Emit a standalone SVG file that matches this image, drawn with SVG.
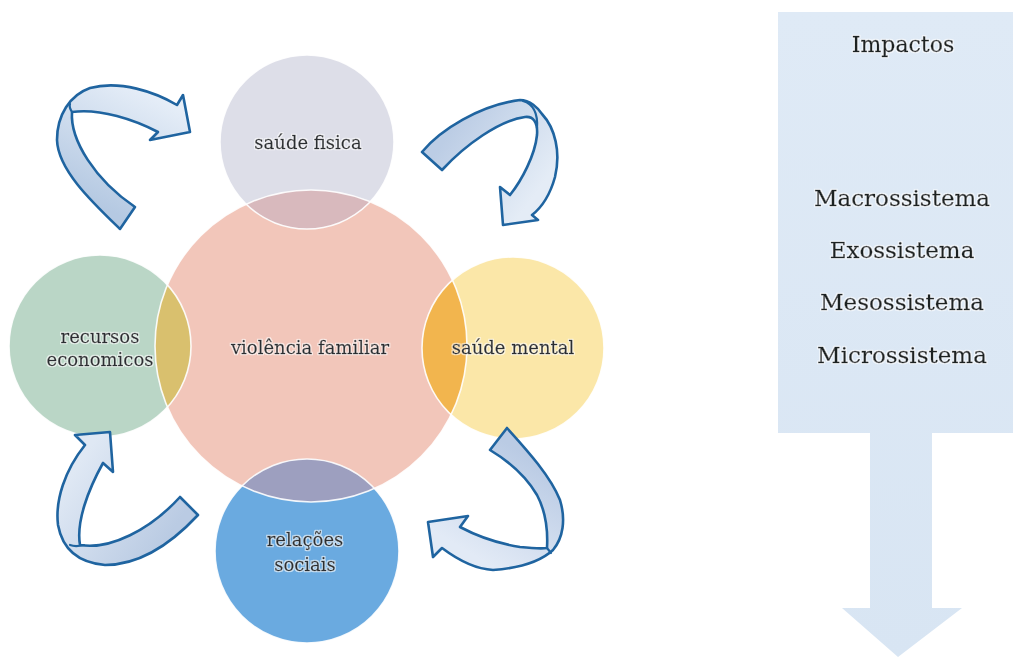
<svg xmlns="http://www.w3.org/2000/svg" width="1013" height="659" viewBox="0 0 1013 659">
<style>
.lbl{font-family:"DejaVu Serif","Liberation Serif",serif;font-size:18px;fill:#2b2e31;stroke:#2b2e31;stroke-width:0.35px;text-anchor:middle;filter:url(#halo);}
.big{font-family:"DejaVu Serif","Liberation Serif",serif;font-size:23px;fill:#1d2124;stroke:#1d2124;stroke-width:0.4px;text-anchor:middle;filter:url(#halo);}
.ring{fill:none;stroke:#ffffff;stroke-width:1.6;stroke-opacity:0.9;}
.arr{stroke:#1f64a0;stroke-width:2.6;stroke-linejoin:round;}
.fold{fill:none;stroke:#1f64a0;stroke-width:2.2;stroke-linecap:round;}
</style>
<defs>
<filter id="halo" x="-10%" y="-30%" width="120%" height="160%">
<feMorphology in="SourceAlpha" operator="dilate" radius="1.3" result="d"/>
<feFlood flood-color="#ffffff" flood-opacity="0.65"/>
<feComposite in2="d" operator="in" result="h"/>
<feMerge><feMergeNode in="h"/><feMergeNode in="SourceGraphic"/></feMerge>
</filter>
<clipPath id="cpCenter"><circle cx="311" cy="346" r="156"/></clipPath>
<linearGradient id="g1" gradientUnits="userSpaceOnUse" x1="128" y1="220" x2="185" y2="110"><stop offset="0" stop-color="#b5c9e2"/><stop offset="1" stop-color="#e6eef8"/></linearGradient>
<linearGradient id="g2" gradientUnits="userSpaceOnUse" x1="430" y1="160" x2="515" y2="222"><stop offset="0" stop-color="#bccde5"/><stop offset="1" stop-color="#e4ecf6"/></linearGradient>
<linearGradient id="g3" gradientUnits="userSpaceOnUse" x1="190" y1="505" x2="95" y2="440"><stop offset="0" stop-color="#bacbe3"/><stop offset="1" stop-color="#dfe8f4"/></linearGradient>
<linearGradient id="g4" gradientUnits="userSpaceOnUse" x1="498" y1="438" x2="440" y2="535"><stop offset="0" stop-color="#bacbe4"/><stop offset="1" stop-color="#e2eaf6"/></linearGradient>
<linearGradient id="gBox" x1="0" y1="0" x2="0" y2="1"><stop offset="0" stop-color="#dfeaf6"/><stop offset="1" stop-color="#d8e5f3"/></linearGradient>
</defs>
<rect width="1013" height="659" fill="#ffffff"/>

<g id="circles">
<g id="node-center"><circle cx="311" cy="346" r="156" fill="#f2c6ba"/></g>
<g id="node-saude-fisica"><circle cx="307" cy="142" r="87" fill="#dddee8"/>
<circle cx="307" cy="142" r="87" fill="#d8b9bd" clip-path="url(#cpCenter)"/></g>
<g id="node-saude-mental"><circle cx="513" cy="348" r="91" fill="#fbe7a8"/>
<circle cx="513" cy="348" r="91" fill="#f2b54e" clip-path="url(#cpCenter)"/></g>
<g id="node-recursos"><circle cx="100" cy="346" r="91" fill="#bad6c6"/>
<circle cx="100" cy="346" r="91" fill="#d9c06e" clip-path="url(#cpCenter)"/></g>
<g id="node-relacoes"><circle cx="307" cy="551" r="92" fill="#6aaae0"/>
<circle cx="307" cy="551" r="92" fill="#9d9fbf" clip-path="url(#cpCenter)"/></g>
<circle class="ring" cx="311" cy="346" r="156"/>
<circle class="ring" cx="307" cy="142" r="87"/>
<circle class="ring" cx="513" cy="348" r="91"/>
<circle class="ring" cx="100" cy="346" r="91"/>
<circle class="ring" cx="307" cy="551" r="92"/>
</g>

<g id="labels">
<text class="lbl" x="308" y="149">saúde fisica</text>
<text class="lbl" x="310" y="354">violência familiar</text>
<text class="lbl" x="513" y="354">saúde mental</text>
<text class="lbl" x="100" y="343">recursos</text>
<text class="lbl" x="100" y="366">economicos</text>
<text class="lbl" x="305" y="546">relações</text>
<text class="lbl" x="305" y="571">sociais</text>
</g>

<g id="connectors">
<path class="arr" fill="url(#g1)" d="M135,207 L120,229 C92,202 58,170 57,140 C57,115 70,95 90,88 C120,80 155,92 177,105 L183,95 L190,132 L150,140 L158,132 C135,120 100,108 72,112 C70,140 95,180 135,207 Z"/>
<path class="fold" d="M72,112 C70,109 69,107 70,104"/>
<path class="arr" fill="url(#g2)" d="M422,152 C440,130 480,105 520,100 C530,100 538,108 542,114 C555,128 561,152 555,177 C550,195 541,208 532,215 L538,220 L503,225 L500,187 L510,195 C522,180 535,155 537,135 C538,122 533,116 525,117 C500,120 465,145 442,170 Z"/>
<path class="fold" d="M523,101 C533,104 538,113 537,128"/>
<path class="arr" fill="url(#g3)" d="M85,445 L75,435 L110,432 L113,472 L103,463 C88,490 76,522 80,545 C110,550 150,530 180,497 L198,515 C170,545 140,565 105,565 C82,563 63,552 58,525 C55,500 65,470 85,445 Z"/>
<path class="fold" d="M70,545 C75,547 80,546 84,545"/>
<path class="arr" fill="url(#g4)" d="M490,450 L507,428 C525,448 550,475 560,500 C566,520 563,538 553,550 C540,562 520,568 493,570 C475,569 458,560 442,548 L433,557 L428,522 L468,516 L460,527 C475,535 495,543 520,547 C530,548 540,549 547,548 C548,530 545,510 537,495 C527,478 510,462 490,450 Z"/>
<path class="fold" d="M547,548 L551,553"/>
</g>

<g id="node-impactos">
<path d="M778,12 H1013 V433 H932 V608 H962 L898,657 L842,608 H870 V433 H778 Z" fill="url(#gBox)"/>
<text class="big" x="903" y="52" style="font-size:22px">Impactos</text>
<text class="big" x="902" y="206">Macrossistema</text>
<text class="big" x="902" y="258">Exossistema</text>
<text class="big" x="902" y="310">Mesossistema</text>
<text class="big" x="902" y="363">Microssistema</text>
</g>
</svg>
